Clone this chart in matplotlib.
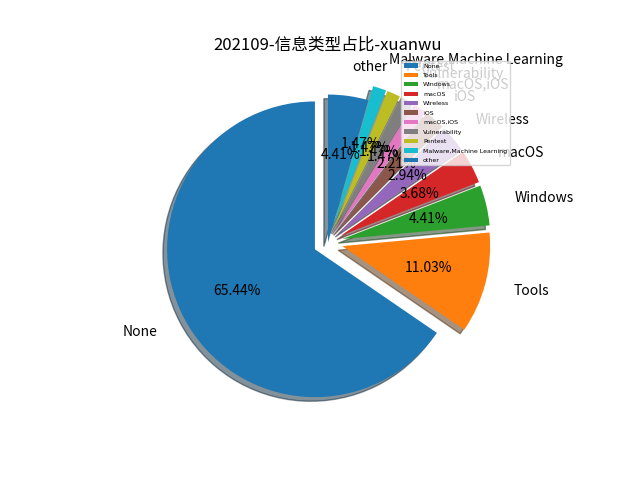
import matplotlib
matplotlib.use('Agg')
import matplotlib.pyplot as plt

plt.rcParams['font.family'] = ['Noto Sans CJK SC', 'DejaVu Sans']
plt.rcParams['axes.unicode_minus'] = False

# 信息类型统计 (2021-09)
labels = ['None', 'Tools', 'Windows', 'macOS', 'Wireless', 'iOS', 'macOS,iOS',
          'Vulnerability', 'Pentest', 'Malware,Machine Learning', 'other']
counts = [89, 15, 6, 5, 4, 3, 2, 2, 2, 2, 6]
explode = [0.1] * 10 + [0]

fig = plt.figure(figsize=(6.4, 4.8), dpi=100)
ax = fig.add_subplot(111)

ax.pie(counts, labels=labels, explode=explode, autopct='%1.2f%%',
       shadow=True, startangle=90, labeldistance=1.2)
ax.set_title('202109-信息类型占比-xuanwu')
ax.legend(loc='upper right', prop={'family': 'DejaVu Sans', 'size': 4.5},
          labelspacing=0.65, handlelength=2.3)

plt.savefig('out.png')
